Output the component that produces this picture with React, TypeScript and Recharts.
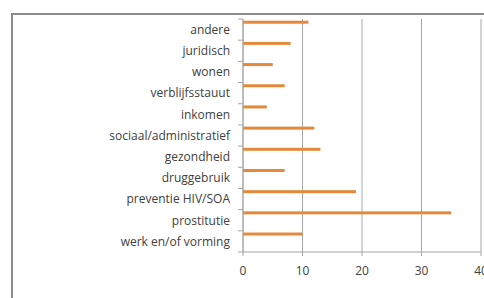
import React from "react";
import { BarChart, Bar, XAxis, YAxis, CartesianGrid } from "recharts";

const categories = [
  "andere",
  "juridisch",
  "wonen",
  "verblijfsstauut",
  "inkomen",
  "sociaal/administratief",
  "gezondheid",
  "druggebruik",
  "preventie HIV/SOA",
  "prostitutie",
  "werk en/of vorming",
];
const values = [11, 8, 5, 7, 4, 12, 13, 7, 19, 35, 10];
const xTicks = [0, 10, 20, 30, 40];

const data = categories.map((c, i) => ({ name: c, value: values[i] }));

const W = 484;
const H = 298;
const TOP = 19;
const XAXIS_H = 46;
const PLOT_H = H - TOP - XAXIS_H;
const BAND = PLOT_H / categories.length;
const BAR_H = 3;
const FONT = "'Open Sans', sans-serif";
const TEXT = "#404040";
const GRID = "#a6a6a6";
const ORANGE = "#E4893B";

const YTick = (props: any) => {
  const { x, y, payload, index } = props;
  const axisX = x + 13;
  const isLast = index === categories.length - 1;
  return (
    <g>
      <line x1={axisX - 5} x2={axisX} y1={y - BAND / 2} y2={y - BAND / 2} stroke={GRID} />
      {isLast && (
        <line x1={axisX - 5} x2={axisX} y1={y + BAND / 2} y2={y + BAND / 2} stroke={GRID} />
      )}
      <text
        x={x}
        y={y}
        dy="0.36em"
        textAnchor="end"
        fill={TEXT}
        fontSize={12}
        fontFamily={FONT}
      >
        {payload.value}
      </text>
    </g>
  );
};

const BarShape = (props: any) => {
  const { x, y, width, height, fill } = props;
  if (!width || width <= 0) return null;
  const bandStart = y + height / 2 - BAND / 2;
  return <rect x={x} y={bandStart + 1.8} width={width} height={BAR_H} fill={fill} />;
};

export default function App() {
  return (
    <div style={{ position: "absolute", left: 0, top: 0, width: W, height: H, background: "#fff", overflow: "hidden" }}>
      <div
        style={{
          position: "absolute",
          left: 11,
          top: 13,
          width: W,
          height: H,
          border: "2px solid #8a8a8a",
          boxSizing: "border-box",
        }}
      />
      <BarChart
        width={W}
        height={H}
        data={data}
        layout="vertical"
        margin={{ top: TOP, right: 3, left: 0, bottom: 0 }}
        barCategoryGap={0}
      >
        <CartesianGrid horizontal={false} vertical={true} stroke={GRID} />
        <XAxis
          type="number"
          domain={[0, 40]}
          ticks={xTicks}
          height={XAXIS_H}
          tickSize={4}
          tickMargin={10}
          stroke={GRID}
          tick={{ fill: TEXT, fontSize: 12, fontFamily: FONT }}
          interval={0}
        />
        <YAxis
          type="category"
          dataKey="name"
          width={243}
          tickLine={false}
          tickSize={0}
          tickMargin={13}
          stroke={GRID}
          tick={<YTick />}
          interval={0}
        />
        <Bar dataKey="value" fill={ORANGE} isAnimationActive={false} shape={<BarShape />} />
      </BarChart>
    </div>
  );
}
